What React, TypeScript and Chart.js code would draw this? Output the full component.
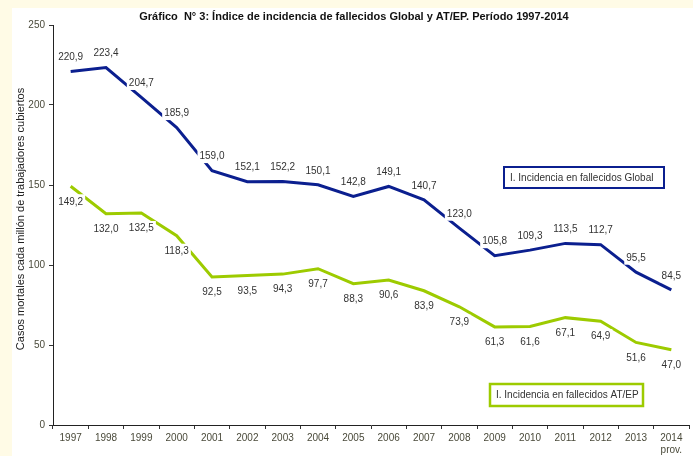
import React, { useEffect, useRef } from "react";
import { Chart, registerables } from "chart.js";

Chart.register(...registerables);

const years: (string | string[])[] = [
  "1997", "1998", "1999", "2000", "2001", "2002", "2003", "2004", "2005",
  "2006", "2007", "2008", "2009", "2010", "2011", "2012", "2013", ["2014", "prov."],
];
const globalValues = [220.9, 223.4, 204.7, 185.9, 159.0, 152.1, 152.2, 150.1, 142.8, 149.1, 140.7, 123.0, 105.8, 109.3, 113.5, 112.7, 95.5, 84.5];
const atepValues = [149.2, 132.0, 132.5, 118.3, 92.5, 93.5, 94.3, 97.7, 88.3, 90.6, 83.9, 73.9, 61.3, 61.6, 67.1, 64.9, 51.6, 47.0];
const yTicks = [0, 50, 100, 150, 200, 250];

const titleText = "Gráfico  N° 3: Índice de incidencia de fallecidos Global y AT/EP. Período 1997-2014";
const yTitleText = "Casos mortales cada millón de trabajadores cubiertos";
const legendGlobal = "I. Incidencia en fallecidos Global";
const legendAtep = "I. Incidencia en fallecidos AT/EP";

const NAVY = "#0B1F8F";
const GREEN = "#9DCB00";
const FONT = 'Arial, "Liberation Sans", sans-serif';

const fmt = (v: number) => v.toFixed(1).replace(".", ",");

const decorPlugin = {
  id: "decor",
  beforeDraw(chart: any) {
    const ctx = chart.ctx;
    ctx.save();
    ctx.fillStyle = "#FFFBE6";
    ctx.fillRect(0, 0, chart.width, chart.height);
    ctx.fillStyle = "#FFFFFF";
    ctx.fillRect(12, 8, chart.width - 12, chart.height - 8);
    ctx.restore();
  },
  afterDatasetsDraw(chart: any) {
    const ctx = chart.ctx;
    ctx.save();
    ctx.font = `10px ${FONT}`;
    ctx.textAlign = "center";
    ctx.textBaseline = "middle";
    chart.data.datasets.forEach((ds: any, di: number) => {
      const meta = chart.getDatasetMeta(di);
      meta.data.forEach((pt: any, i: number) => {
        const txt = fmt(ds.data[i]);
        const off = di === 0 ? -14.5 : 15;
        const x = pt.x;
        const y = pt.y + off;
        const w = ctx.measureText(txt).width + 4;
        ctx.fillStyle = "#FFFFFF";
        ctx.fillRect(x - w / 2, y - 7, w, 14);
        ctx.fillStyle = "#333333";
        ctx.fillText(txt, x, y + 0.5);
      });
    });
    ctx.restore();
  },
  afterDraw(chart: any) {
    const ctx = chart.ctx;
    ctx.save();
    // title
    ctx.font = `bold 11px ${FONT}`;
    ctx.fillStyle = "#111111";
    ctx.textAlign = "center";
    ctx.textBaseline = "middle";
    ctx.fillText(titleText, 354, 17);
    // y title
    ctx.font = `11px ${FONT}`;
    ctx.fillStyle = "#222222";
    ctx.translate(21, (chart.chartArea.top + chart.chartArea.bottom) / 2 - 6);
    ctx.rotate(-Math.PI / 2);
    ctx.fillText(yTitleText, 0, 0);
    ctx.setTransform(1, 0, 0, 1, 0, 0);
    // legend boxes
    ctx.font = `10px ${FONT}`;
    ctx.textAlign = "left";
    ctx.fillStyle = "#FFFFFF";
    ctx.fillRect(504, 167, 160, 21);
    ctx.strokeStyle = NAVY;
    ctx.lineWidth = 2;
    ctx.strokeRect(504, 167, 160, 21);
    ctx.fillStyle = "#333333";
    ctx.fillText(legendGlobal, 510, 178);

    ctx.fillStyle = "#FFFFFF";
    ctx.fillRect(490, 384, 153, 22);
    ctx.strokeStyle = GREEN;
    ctx.lineWidth = 2.5;
    ctx.strokeRect(490, 384, 153, 22);
    ctx.fillStyle = "#333333";
    ctx.fillText(legendAtep, 496, 395.5);
    ctx.restore();
  },
};

export default function App() {
  const ref = useRef<HTMLCanvasElement>(null);
  useEffect(() => {
    document.body.style.margin = "0";
    const chart = new Chart(ref.current!, {
      type: "line",
      data: {
        labels: years,
        datasets: [
          {
            label: legendGlobal,
            data: globalValues,
            borderColor: NAVY,
            borderWidth: 3,
            pointRadius: 0,
            tension: 0,
          },
          {
            label: legendAtep,
            data: atepValues,
            borderColor: GREEN,
            borderWidth: 3,
            pointRadius: 0,
            tension: 0,
          },
        ],
      },
      options: {
        animation: false,
        responsive: false,
        layout: { padding: { left: 0, top: 25, right: 4, bottom: 0 } },
        plugins: { legend: { display: false }, tooltip: { enabled: false }, title: { display: false } },
        scales: {
          x: {
            type: "category",
            offset: true,
            grid: { display: true, offset: true, drawOnChartArea: false, drawTicks: true, tickLength: 4, color: "#333333" },
            border: { display: true, color: "#222222", width: 1 },
            ticks: { color: "#4A4A3A", font: { family: FONT, size: 10 }, padding: 3, maxRotation: 0, autoSkip: false },
            afterFit: (s: any) => { s.height = 31; },
          },
          y: {
            min: 0,
            max: 250,
            afterBuildTicks: (s: any) => { s.ticks = yTicks.map((v) => ({ value: v })); },
            grid: { display: true, drawOnChartArea: false, drawTicks: true, tickLength: 4, color: "#333333" },
            border: { display: true, color: "#222222", width: 1 },
            ticks: { color: "#4A4A3A", font: { family: FONT, size: 10 }, padding: 4 },
            afterFit: (s: any) => { s.width = 53; },
          },
        },
      },
      plugins: [decorPlugin],
    } as any);
    return () => chart.destroy();
  }, []);
  return <canvas ref={ref} width={693} height={456} style={{ display: "block" }} />;
}
